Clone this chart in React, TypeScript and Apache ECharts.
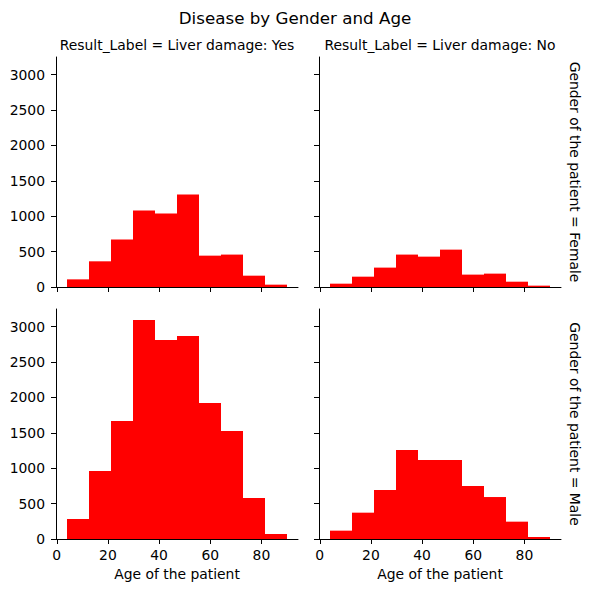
import React, { useEffect, useRef } from 'react';
import * as echarts from 'echarts';

// histogram bin edges (age) and counts per facet
const binEdges = [4, 12.6, 21.2, 29.8, 38.4, 47, 55.6, 64.2, 72.8, 81.4, 90];
const femaleYes = [108, 363, 670, 1080, 1038, 1307, 443, 458, 160, 33];
const femaleNo = [47, 146, 274, 458, 429, 528, 175, 189, 75, 19];
const maleYes = [283, 961, 1667, 3095, 2812, 2868, 1922, 1526, 579, 71];
const maleNo = [118, 372, 692, 1258, 1116, 1116, 749, 593, 245, 28];

const xTicks = [0, 20, 40, 60, 80];
const yTicks = [0, 500, 1000, 1500, 2000, 2500, 3000];

const colTitles = ['Result_Label = Liver damage: Yes', 'Result_Label = Liver damage: No'];
const rowTitles = ['Gender of the patient = Female', 'Gender of the patient = Male'];

const FONT = 'DejaVu Sans';
const FS = 13.9;

const App: React.FC = () => {
  const chartRef = useRef<HTMLDivElement>(null);

  useEffect(() => {
    const chart = echarts.init(chartRef.current, null, { renderer: 'svg' });

    const panels = [
      { data: femaleYes, row: 0, col: 0 },
      { data: femaleNo, row: 0, col: 1 },
      { data: maleYes, row: 1, col: 0 },
      { data: maleNo, row: 1, col: 1 },
    ];
    const lefts = [56, 319];
    const tops = [57, 309];
    const W = 242;
    const H = 230;

    const axisLine = { show: true, onZero: false, lineStyle: { color: '#000', width: 1 } };

    const option = {
      animation: false,
      textStyle: { fontFamily: FONT },
      grid: panels.map((p) => ({ left: lefts[p.col], top: tops[p.row], width: W, height: H })),
      xAxis: panels.map((p, i) => ({
        type: 'value',
        gridIndex: i,
        min: -0.3,
        max: 94.3,
        splitLine: { show: false },
        axisLine,
        axisTick: { show: true, length: 5, customValues: xTicks, lineStyle: { color: '#000', width: 1 } },
        axisLabel: {
          show: p.row === 1,
          customValues: xTicks,
          formatter: (v: number) => String(v),
          margin: 9,
          fontSize: FS,
          color: '#000',
          fontFamily: FONT,
        },
        name: p.row === 1 ? 'Age of the patient' : '',
        nameLocation: 'middle',
        nameGap: 28,
        nameTextStyle: { fontSize: FS, color: '#000', fontFamily: FONT },
      })),
      yAxis: panels.map((p, i) => ({
        type: 'value',
        gridIndex: i,
        min: 0,
        max: 3250,
        splitLine: { show: false },
        axisLine,
        axisTick: { show: true, length: 5, customValues: yTicks, lineStyle: { color: '#000', width: 1 } },
        axisLabel: {
          show: p.col === 0,
          customValues: yTicks,
          formatter: (v: number) => String(v),
          margin: 11,
          fontSize: FS,
          color: '#000',
          fontFamily: FONT,
        },
      })),
      series: panels.map((p, i) => ({
        type: 'custom',
        xAxisIndex: i,
        yAxisIndex: i,
        encode: { x: [0, 1], y: 2 },
        data: p.data.map((v, k) => [binEdges[k], binEdges[k + 1], v]),
        renderItem: (params: any, api: any) => {
          const p0 = api.coord([api.value(0), api.value(2)]);
          const p1 = api.coord([api.value(1), 0]);
          return {
            type: 'rect',
            shape: { x: p0[0], y: p0[1], width: p1[0] - p0[0], height: p1[1] - p0[1] },
            style: { fill: '#ff0000' },
          };
        },
      })),
      graphic: [
        {
          type: 'text',
          x: 295,
          y: 18,
          style: {
            text: 'Disease by Gender and Age',
            fontSize: 16.7,
            fontFamily: FONT,
            fill: '#000',
            align: 'center',
            verticalAlign: 'middle',
          },
        },
        ...colTitles.map((t, c) => ({
          type: 'text',
          x: lefts[c] + W / 2,
          y: 45,
          style: {
            text: t,
            fontSize: FS,
            fontFamily: FONT,
            fill: '#000',
            align: 'center',
            verticalAlign: 'middle',
          },
        })),
        ...rowTitles.map((t, r) => ({
          type: 'text',
          x: 575,
          y: tops[r] + H / 2,
          rotation: -Math.PI / 2,
          style: {
            text: t,
            fontSize: FS,
            fontFamily: FONT,
            fill: '#000',
            align: 'center',
            verticalAlign: 'middle',
          },
        })),
      ],
    };

    chart.setOption(option);

    return () => {
      chart.dispose();
    };
  }, []);

  return (
    <div
      ref={chartRef}
      style={{ position: 'absolute', left: 0, top: 0, width: '590px', height: '592px', background: '#fff' }}
    ></div>
  );
};

export default App;
